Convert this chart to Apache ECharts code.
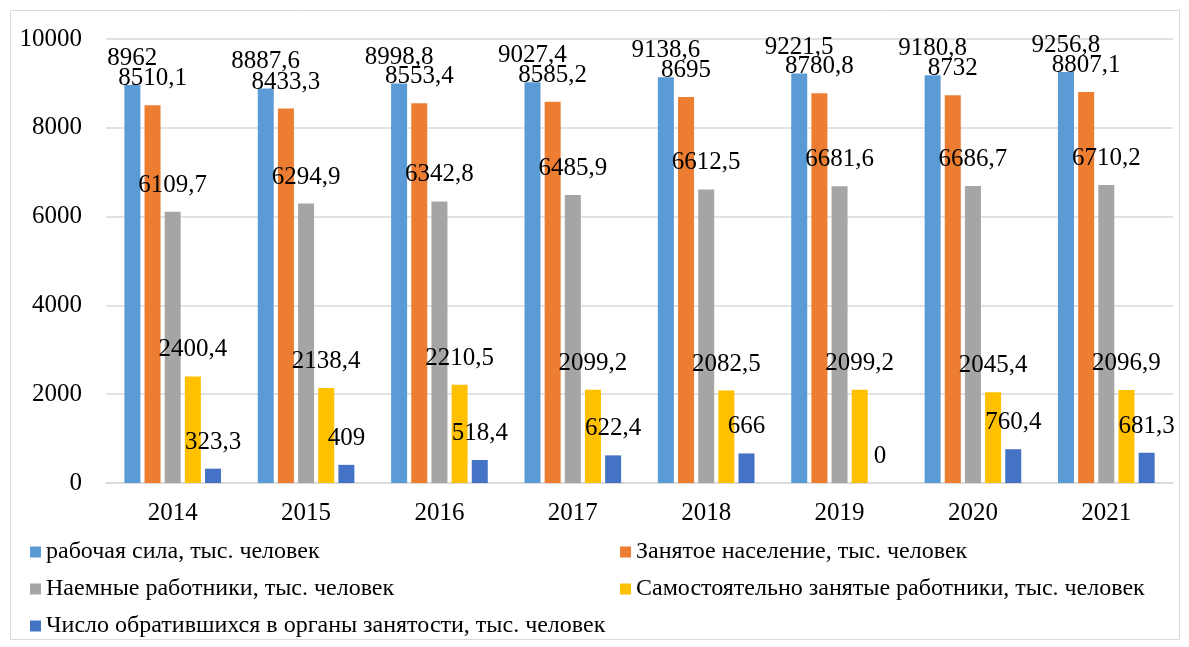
<!DOCTYPE html>
<html><head><meta charset="utf-8">
<script src="https://cdn.jsdelivr.net/npm/echarts@6/dist/echarts.min.js"></script>
<style>html,body{margin:0;padding:0;background:#fff}#c{width:1189px;height:647px}</style>
</head><body><div id="c"></div>
<script>
const categories = ['2014','2015','2016','2017','2018','2019','2020','2021'];
const seriesNames = ['рабочая сила, тыс. человек','Занятое население, тыс. человек','Наемные работники, тыс. человек','Самостоятельно занятые работники, тыс. человек','Число обратившихся в органы занятости, тыс. человек'];
const labourForce = [8962, 8887.6, 8998.8, 9027.4, 9138.6, 9221.5, 9180.8, 9256.8];
const employed = [8510.1, 8433.3, 8553.4, 8585.2, 8695, 8780.8, 8732, 8807.1];
const hired = [6109.7, 6294.9, 6342.8, 6485.9, 6612.5, 6681.6, 6686.7, 6710.2];
const selfEmployed = [2400.4, 2138.4, 2210.5, 2099.2, 2082.5, 2099.2, 2045.4, 2096.9];
const applicants = [323.3, 409, 518.4, 622.4, 666, 0, 760.4, 681.3];
const yTicks = [0, 2000, 4000, 6000, 8000, 10000];
const colors = ['#5B9BD5','#ED7D31','#A5A5A5','#FFC000','#4472C4'];
const FONT = '"Liberation Serif", "Times New Roman", serif';
const allData = [labourForce, employed, hired, selfEmployed, applicants];
const chart = echarts.init(document.getElementById('c'));
const legendText = {fontFamily:FONT, fontSize:24, color:'#000'};
chart.setOption({
  animation: false,
  color: colors,
  textStyle: {fontFamily: FONT},
  graphic: [{type:'rect', shape:{x:10.5,y:10.5,width:1169,height:629}, style:{fill:'none', stroke:'#d9d9d9', lineWidth:1}, silent:true}],
  grid: {left:106, right:16, top:39, bottom:164},
  legend: [
    {data:[seriesNames[0],seriesNames[2],seriesNames[4]], orient:'vertical', left:30, top:540, height:110, padding:0, itemWidth:11, itemHeight:11, itemGap:13, icon:'rect', textStyle:legendText},
    {data:[seriesNames[1],seriesNames[3]], orient:'vertical', left:620, top:540, height:110, padding:0, itemWidth:11, itemHeight:11, itemGap:13, icon:'rect', textStyle:legendText}
  ],
  xAxis: {type:'category', data:categories, axisTick:{show:false}, axisLine:{lineStyle:{color:'#d9d9d9', width:1.5}},
    axisLabel:{fontFamily:FONT, fontSize:25, color:'#000', margin:18}},
  yAxis: {type:'value', min:yTicks[0], max:yTicks[yTicks.length-1], interval:2000, axisLine:{show:false}, axisTick:{show:false},
    splitLine:{lineStyle:{color:'#d9d9d9', width:1.5}},
    axisLabel:{fontFamily:FONT, fontSize:25, color:'#000', margin:24, formatter: v => String(v)}},
  series: allData.map((d,i)=>({
    name: seriesNames[i], type:'bar', data:d, barWidth:16, barGap:'26%',
    label:{show:true, position:'top', distance:14, fontFamily:FONT, fontSize:25, color:'#000',
      formatter: p => String(p.value).replace('.', ',')}
  }))
});
</script></body></html>
